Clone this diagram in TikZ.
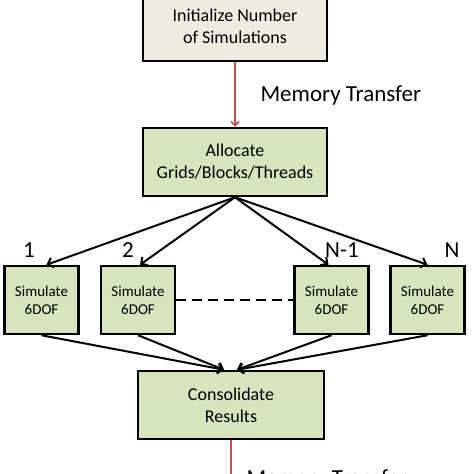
\documentclass[tikz,border=0pt]{standalone}
\usepackage{fontspec}
\setmainfont{Carlito}
\usetikzlibrary{arrows.meta}
\definecolor{boxgreen}{HTML}{D7E4BD}
\definecolor{boxtan}{HTML}{EEECE1}
\definecolor{transferred}{HTML}{C0504D}

\begin{document}
\begin{tikzpicture}[x=1pt, y=-1pt, >={Straight Barb[length=5pt, width=10pt]},
    process/.style = {rectangle, draw, line width=2.5pt, fill=boxgreen, align=center,
                      minimum width=184pt, minimum height=68pt, font=\fontsize{18}{22}\selectfont},
    simbox/.style = {rectangle, draw, line width=2.5pt, fill=boxgreen, align=center,
                     minimum width=74pt, minimum height=68pt, font=\fontsize{15}{18}\selectfont},
    counter/.style = {font=\fontsize{23}{27}\selectfont},
    transfer/.style = {font=\fontsize{23}{28}\selectfont},
    flow/.style = {line width=2pt},
    memory/.style = {line width=1.6pt, draw=transferred}]
  \useasboundingbox (0, 0) rectangle (474, 474);

  % Steps.
  \node at (235, 26) [process, fill=boxtan, minimum height=70pt, name=Initialize] {Initialize Number\\of Simulations};
  \node at (235, 162) [process, name=Allocate] {Allocate\\Grids/Blocks/Threads};
  \node at (41.5, 300) [simbox, name=SimOne] {Simulate\\6DOF};
  \node at (138, 300) [simbox, name=SimTwo] {Simulate\\6DOF};
  \node at (331.5, 300) [simbox, name=SimPrev] {Simulate\\6DOF};
  \node at (427.5, 300) [simbox, name=SimLast] {Simulate\\6DOF};
  \node at (231, 405) [process, minimum width=186pt, name=Consolidate] {Consolidate\\Results};

  % Simulation counters.
  \node at (29, 250) [counter, name=CountOne] {1};
  \node at (128, 250) [counter, name=CountTwo] {2};
  \node at (342, 250) [counter, name=CountPrev] {N-1};
  \node at (452, 250) [counter, name=CountLast] {N};

  % Memory transfers.
  \draw [->, memory, >={Straight Barb[length=4pt, width=8pt]}] (Initialize) -- (Allocate);
  \node at (257, 95) [anchor=west, transfer, name=TransferIn] {Memory Transfer};
  \coordinate (offpage) at (231, 490);
  \draw [memory] (Consolidate) -- (offpage);
  \node at (243, 485) [anchor=base west, transfer, name=TransferOut] {Memory Transfer};

  % Launch of the simulations.
  \draw [->, flow] (Allocate.south) -- ([xshift=5pt]SimOne.north);
  \draw [->, flow] (Allocate.south) -- ([xshift=2pt]SimTwo.north);
  \draw [->, flow] (Allocate.south) -- ([xshift=-3pt]SimPrev.north);
  \draw [->, flow] (Allocate.south) -- (SimLast.north);
  \draw [flow, dash pattern=on 10pt off 6pt] (SimTwo) -- (SimPrev);

  % Gathering of the results.
  \draw [->, flow] (SimOne.south) -- ([xshift=-7pt]Consolidate.north);
  \draw [->, flow] (SimTwo.south) -- ([xshift=-7pt]Consolidate.north);
  \draw [->, flow] (SimPrev.south) -- ([xshift=6pt]Consolidate.north);
  \draw [->, flow] (SimLast.south) -- ([xshift=6pt]Consolidate.north);
\end{tikzpicture}
\end{document}
